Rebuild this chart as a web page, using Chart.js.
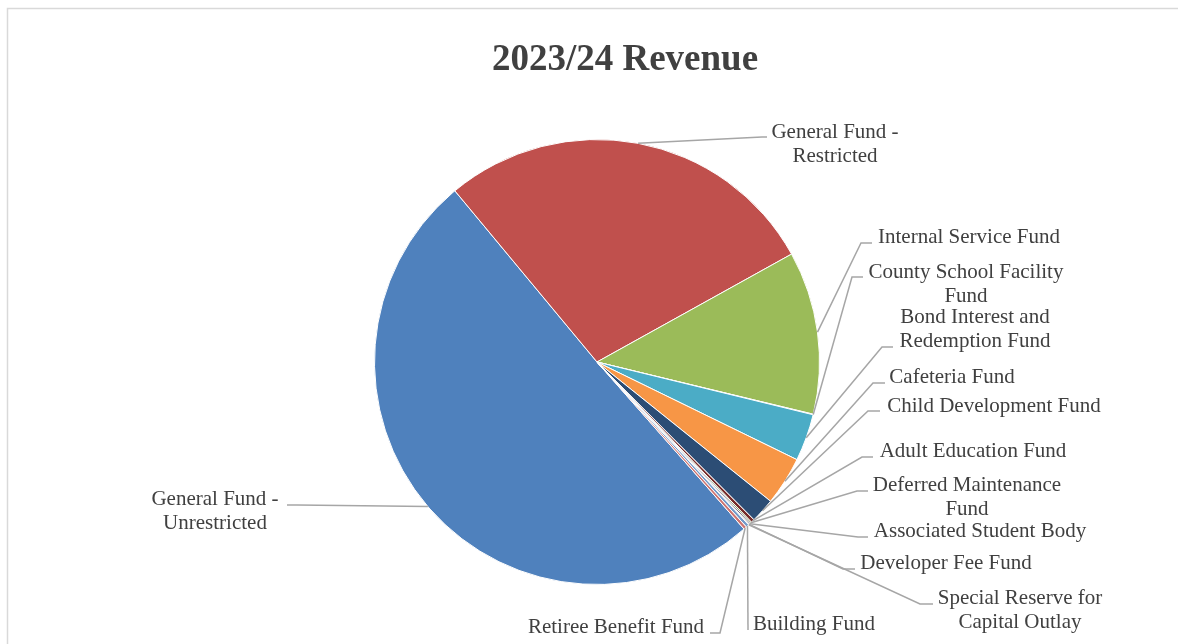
<!DOCTYPE html>
<html>
<head>
<meta charset="utf-8">
<title>2023/24 Revenue</title>
<script src="https://cdn.jsdelivr.net/npm/chart.js@4.4.1/dist/chart.umd.min.js"></script>
<style>
  html, body { margin: 0; padding: 0; background: #ffffff; }
  canvas { display: block; }
</style>
</head>
<body>
<canvas id="revenueChart" width="1178" height="644"></canvas>
<script>
// Fund names, in drawing order (clockwise from the rotation angle)
const categories = [
  'General Fund - Unrestricted',
  'General Fund - Restricted',
  'Internal Service Fund',
  'County School Facility Fund',
  'Bond Interest and Redemption Fund',
  'Cafeteria Fund',
  'Child Development Fund',
  'Adult Education Fund',
  'Deferred Maintenance Fund',
  'Associated Student Body',
  'Developer Fee Fund',
  'Special Reserve for Capital Outlay',
  'Building Fund',
  'Retiree Benefit Fund'
];

// Share of total revenue, percent
const revenueShare = [
  50.46, 27.97, 11.83, 0.04, 3.42, 3.53, 1.78,
  0.25, 0.10, 0.10, 0.05, 0.03, 0.22, 0.22
];

// Office-style slice palette
const sliceColors = [
  '#4F81BD', '#C0504D', '#9BBB59', '#8064A2', '#4BACC6', '#F79646', '#2C4D75',
  '#772C2A', '#5F7530', '#4D3B62', '#276A7C', '#B65708', '#729ACA', '#CD7371'
];

const chartTitle = '2023/24 Revenue';

// Label placement: text centre x, first baseline, wrap width, leader elbow and end
const labelLayout = [
  { cx: 215,  base: 505, wrap: 150, elbow: [297, 505], end: [287, 505] },
  { cx: 835,  base: 138, wrap: 150, elbow: [762, 137], end: [767, 137] },
  { cx: 969,  base: 243, wrap: 222, elbow: [861, 243], end: [872, 243] },
  { cx: 966,  base: 278, wrap: 222, elbow: [852, 277], end: [863, 277] },
  { cx: 975,  base: 323, wrap: 222, elbow: [882, 347], end: [893, 347] },
  { cx: 952,  base: 383, wrap: 222, elbow: [873, 383], end: [885, 383] },
  { cx: 994,  base: 412, wrap: 222, elbow: [868, 411], end: [880, 411] },
  { cx: 973,  base: 457, wrap: 222, elbow: [862, 457], end: [873, 457] },
  { cx: 967,  base: 491, wrap: 222, elbow: [857, 491], end: [868, 491] },
  { cx: 980,  base: 537, wrap: 222, elbow: [858, 537], end: [868, 537] },
  { cx: 946,  base: 569, wrap: 222, elbow: [843, 569], end: [855, 569] },
  { cx: 1020, base: 604, wrap: 222, elbow: [920, 604], end: [933, 604] },
  { cx: 814,  base: 630, wrap: 222, elbow: [748, 630], end: [748, 630] },
  { cx: 616,  base: 633, wrap: 222, elbow: [720, 633], end: [710, 633] }
];

const TEXT_COLOR = '#404040';
const LABEL_FONT = '21px "Liberation Serif", "Times New Roman", serif';
const TITLE_FONT = 'bold 37px "Liberation Serif", "Times New Roman", serif';
const LINE_HEIGHT = 24;

function wrapText(ctx, text, maxWidth) {
  const words = text.split(' ');
  const lines = [];
  let current = '';
  for (const w of words) {
    const trial = current ? current + ' ' + w : w;
    if (current && ctx.measureText(trial).width > maxWidth) {
      lines.push(current);
      current = w;
    } else {
      current = trial;
    }
  }
  if (current) lines.push(current);
  return lines;
}

// White page with the light frame of the chart box
const framePlugin = {
  id: 'frame',
  beforeDraw(chart) {
    const ctx = chart.ctx;
    ctx.save();
    ctx.fillStyle = '#ffffff';
    ctx.fillRect(0, 0, chart.width, chart.height);
    ctx.strokeStyle = '#d9d9d9';
    ctx.lineWidth = 1.5;
    ctx.strokeRect(7.5, 8.5, chart.width + 20, chart.height + 20);
    ctx.restore();
  }
};

// Title plus outside labels with leader lines from each slice's mid-angle
const labelPlugin = {
  id: 'outsideLabels',
  afterDatasetsDraw(chart) {
    const ctx = chart.ctx;
    const arcs = chart.getDatasetMeta(0).data;
    ctx.save();

    ctx.font = TITLE_FONT;
    ctx.fillStyle = TEXT_COLOR;
    ctx.textAlign = 'center';
    ctx.textBaseline = 'alphabetic';
    ctx.fillText(chartTitle, 625, 70);

    ctx.font = LABEL_FONT;
    ctx.strokeStyle = '#a6a6a6';
    ctx.lineWidth = 1.5;
    arcs.forEach((arc, i) => {
      const L = labelLayout[i];
      const p = arc.getProps(['x', 'y', 'startAngle', 'endAngle', 'outerRadius'], true);
      const mid = (p.startAngle + p.endAngle) / 2;
      const ex = p.x + Math.cos(mid) * p.outerRadius;
      const ey = p.y + Math.sin(mid) * p.outerRadius;

      ctx.beginPath();
      ctx.moveTo(ex, ey);
      ctx.lineTo(L.elbow[0], L.elbow[1]);
      ctx.lineTo(L.end[0], L.end[1]);
      ctx.stroke();

      const lines = wrapText(ctx, categories[i], L.wrap);
      ctx.fillStyle = TEXT_COLOR;
      lines.forEach((line, k) => {
        ctx.fillText(line, L.cx, L.base + k * LINE_HEIGHT);
      });
    });
    ctx.restore();
  }
};

function build() {
  new Chart(document.getElementById('revenueChart'), {
    type: 'pie',
    data: {
      labels: categories,
      datasets: [{
        data: revenueShare,
        backgroundColor: sliceColors,
        borderColor: '#ffffff',
        borderWidth: 1
      }]
    },
    options: {
      responsive: false,
      animation: false,
      rotation: 138.64,
      layout: { padding: { left: 374, right: 358, top: 139, bottom: 59 } },
      plugins: {
        legend: { display: false },
        title: { display: false },
        tooltip: { enabled: false }
      }
    },
    plugins: [framePlugin, labelPlugin]
  });
}

if (document.fonts && document.fonts.load) {
  Promise.all([
    document.fonts.load(LABEL_FONT),
    document.fonts.load(TITLE_FONT)
  ]).then(build, build);
} else {
  build();
}
</script>
</body>
</html>
